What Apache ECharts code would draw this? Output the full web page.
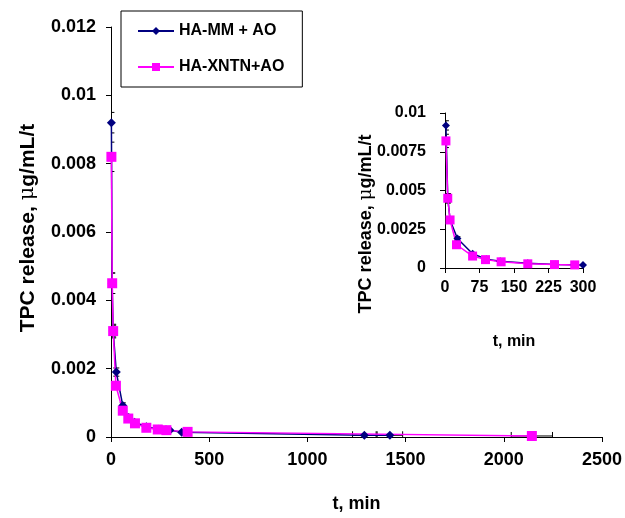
<!DOCTYPE html>
<html>
<head>
<meta charset="utf-8">
<script src="https://cdn.jsdelivr.net/npm/echarts@6/dist/echarts.min.js"></script>
<style>
  html, body { margin: 0; padding: 0; background: #fff; }
  #chart { width: 625px; height: 518px; }
</style>
</head>
<body>
<div id="chart"></div>
<script>
// Release time points (min) and TPC release (µg/mL/t) for each formulation
const timeMM = [2, 6, 11, 27, 60, 90, 120, 180, 240, 280, 300, 360, 1290, 1420];
const releaseMM = [0.0092, 0.0045, 0.0031, 0.0019, 0.00092, 0.00057, 0.00043, 0.0003, 0.00023, 0.00021, 0.0002, 0.00014, 0.00005, 0.00005];
const sdMM = [0.0003, 0.0003, 0.0002, 0.00012, 0.00008, 0.00005, 0.00004, 0.00003, 0.00002, 0.00002, 0.00002, 0.00002, 0.00001, 0.00001];
const tErrMM = [0, 0, 0, 0, 0, 0, 0, 0, 0, 0, 0, 0, 60, 65];

const timeXN = [2, 6, 11, 25, 60, 88, 122, 180, 238, 282, 390, 2143];
const releaseXN = [0.0082, 0.0045, 0.0031, 0.0015, 0.00077, 0.00054, 0.0004, 0.00027, 0.00022, 0.0002, 0.00015, 0.00003];
const sdXN = [0.00043, 0.0003, 0.00017, 0.0001, 0.00006, 0.00004, 0.00003, 0.00002, 0.00002, 0.00002, 0.00002, 0.00001];
const tErrXN = [0, 0, 0, 0, 0, 0, 0, 0, 0, 0, 0, 105];

const seriesNames = ['HA-MM + AO', 'HA-XNTN+AO'];
const mainYTicks = { min: 0, max: 0.012, interval: 0.002 };
const mainXTicks = { min: 0, max: 2500, interval: 500 };
const insetYTicks = { min: 0, max: 0.01, interval: 0.0025 };
const insetXTicks = { min: 0, max: 300, interval: 75 };

const FONT = 'Liberation Sans, Arial, sans-serif';
const BLUE = '#000080';
const PINK = '#FF00FF';

function pairs(xs, ys) { return xs.map((x, i) => [x, ys[i]]); }
function errRows(xs, ys, ex, ey) { return xs.map((x, i) => [x, ys[i], ex[i], ey[i]]); }
function fmt(v) { return String(parseFloat(v.toFixed(5))); }

// Error bars: vertical (SD of release) and horizontal (spread of sampling time)
function renderErr(params, api) {
  const x = api.value(0), y = api.value(1), ex = api.value(2), ey = api.value(3);
  const children = [];
  const style = { stroke: '#000', lineWidth: 1 };
  const cap = 3;
  if (ey > 0) {
    const top = api.coord([x, y + ey]);
    const bot = api.coord([x, y - ey]);
    children.push({ type: 'line', shape: { x1: top[0], y1: top[1], x2: bot[0], y2: bot[1] }, style });
    children.push({ type: 'line', shape: { x1: top[0] - cap, y1: top[1], x2: top[0] + cap, y2: top[1] }, style });
    children.push({ type: 'line', shape: { x1: bot[0] - cap, y1: bot[1], x2: bot[0] + cap, y2: bot[1] }, style });
  }
  if (ex > 0) {
    const l = api.coord([x - ex, y]);
    const r = api.coord([x + ex, y]);
    children.push({ type: 'line', shape: { x1: l[0], y1: l[1], x2: r[0], y2: r[1] }, style });
    children.push({ type: 'line', shape: { x1: l[0], y1: l[1] - cap - 1, x2: l[0], y2: l[1] + cap + 1 }, style });
    children.push({ type: 'line', shape: { x1: r[0], y1: r[1] - cap - 1, x2: r[0], y2: r[1] + cap + 1 }, style });
  }
  return { type: 'group', children };
}

function valueAxis(ticks, gridIndex, fontSize, labelMargin, extra) {
  return Object.assign({
    type: 'value',
    gridIndex,
    min: ticks.min, max: ticks.max, interval: ticks.interval,
    axisLine: { show: true, onZero: false, lineStyle: { color: '#000', width: 1 } },
    axisTick: { show: true, length: 5, lineStyle: { color: '#000' } },
    splitLine: { show: false },
    axisLabel: { color: '#000', fontFamily: FONT, fontWeight: 'bold', fontSize, margin: labelMargin, formatter: fmt },
    nameTextStyle: { color: '#000', fontFamily: FONT, fontWeight: 'bold', fontSize }
  }, extra);
}

function lineSeries(name, data, color, symbol, size, gi) {
  return {
    name, type: 'line', xAxisIndex: gi, yAxisIndex: gi, data,
    color, symbol, symbolSize: size, showSymbol: true,
    lineStyle: { color, width: 1.5 },
    itemStyle: { color },
    animation: false, clip: true, z: 3
  };
}

function errSeries(rows, gi) {
  return {
    type: 'custom', xAxisIndex: gi, yAxisIndex: gi, data: rows,
    renderItem: renderErr, clip: true, silent: true, animation: false, z: 2
  };
}

// Rotated y-axis title with the Greek mu set in a serif face
function yTitle(cx, cy, size) {
  return {
    type: 'text', x: cx, y: cy, rotation: Math.PI / 2,
    style: {
      text: 'TPC release, {mu|\u03bc}g/mL/t',
      fill: '#000', font: 'bold ' + size + 'px ' + FONT,
      align: 'center', verticalAlign: 'middle',
      rich: { mu: { fontFamily: 'DejaVu Serif, serif', fontWeight: 'normal', fontSize: size, fill: '#000' } }
    }
  };
}

const chart = echarts.init(document.getElementById('chart'), null, { renderer: 'canvas' });

chart.setOption({
  backgroundColor: '#fff',
  animation: false,
  grid: [
    { left: 111, right: 23, top: 27, bottom: 81 },
    { left: 445, width: 138, top: 113, height: 155 }
  ],
  legend: {
    data: seriesNames,
    orient: 'vertical',
    left: 121, top: 11,
    padding: [12, 18, 12, 16],
    itemGap: 20,
    itemWidth: 36, itemHeight: 10,
    borderColor: '#000', borderWidth: 1,
    backgroundColor: '#fff',
    textStyle: { color: '#000', fontFamily: FONT, fontWeight: 'bold', fontSize: 16 }
  },
  xAxis: [
    valueAxis(mainXTicks, 0, 18, 14, { name: 't, min', nameLocation: 'middle', nameGap: 58 }),
    valueAxis(insetXTicks, 1, 16, 12, { name: 't, min', nameLocation: 'middle', nameGap: 66 })
  ],
  yAxis: [
    valueAxis(mainYTicks, 0, 18, 15),
    valueAxis(insetYTicks, 1, 16, 19)
  ],
  graphic: [
    yTitle(28, 228, 21),
    yTitle(366, 224, 18)
  ],
  series: [
    errSeries(errRows(timeMM, releaseMM, tErrMM, sdMM), 0),
    errSeries(errRows(timeXN, releaseXN, tErrXN, sdXN), 0),
    lineSeries(seriesNames[0], pairs(timeMM, releaseMM), BLUE, 'diamond', 9, 0),
    lineSeries(seriesNames[1], pairs(timeXN, releaseXN), PINK, 'rect', 10, 0),
    errSeries(errRows(timeMM, releaseMM, tErrMM, sdMM), 1),
    errSeries(errRows(timeXN, releaseXN, tErrXN, sdXN), 1),
    lineSeries(seriesNames[0], pairs(timeMM, releaseMM), BLUE, 'diamond', 8, 1),
    lineSeries(seriesNames[1], pairs(timeXN, releaseXN), PINK, 'rect', 9, 1)
  ]
});
</script>
</body>
</html>
